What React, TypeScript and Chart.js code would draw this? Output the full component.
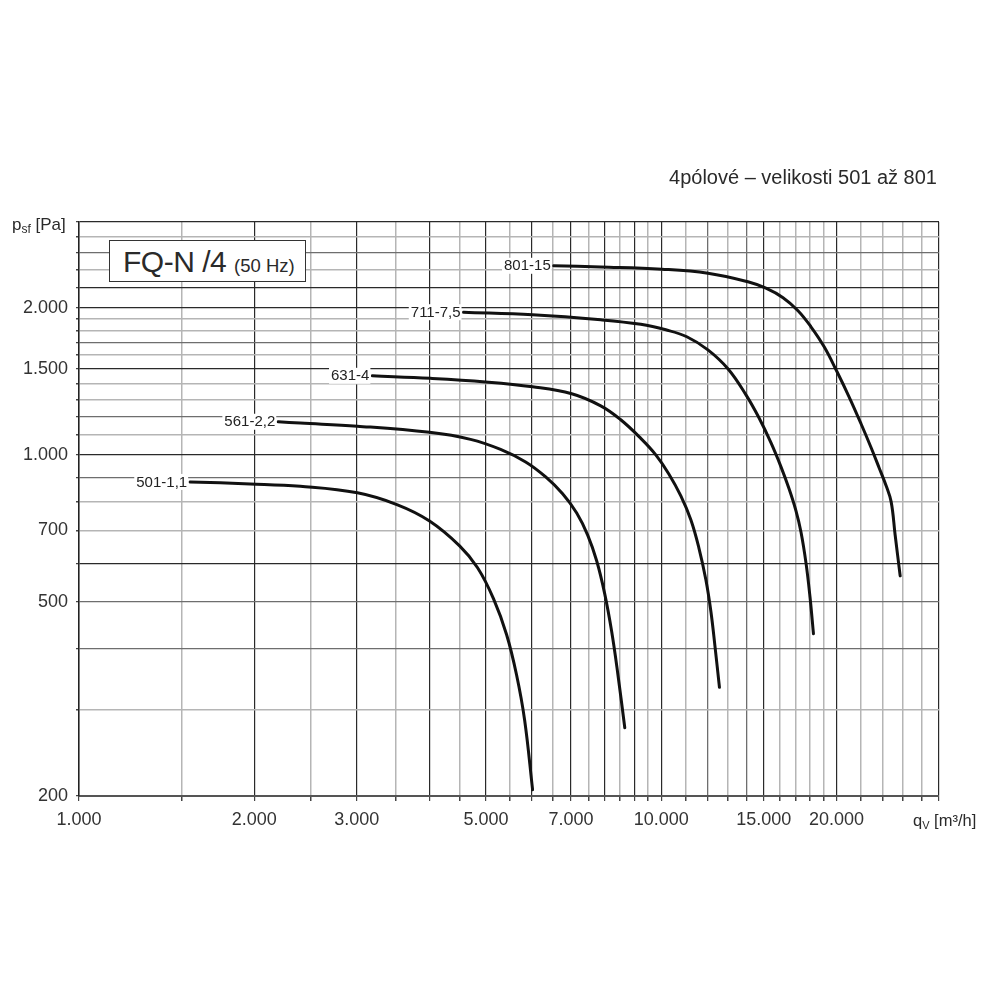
import React, { useEffect, useRef } from 'react';
import { Chart, registerables } from 'chart.js';

Chart.register(...registerables);

// ---- data ----
const SERIES_LABELS = ['501-1,1', '561-2,2', '631-4', '711-7,5', '801-15'];

const Q_501 = [1552, 1968, 2399, 3007, 3524, 4000, 4505, 4837, 5153, 5426, 5644, 5827, 6013];
const P_501 = [880, 872, 862, 836, 790, 732, 651, 587, 507, 428, 354, 286, 206];

const Q_561 = [2199, 2399, 3007, 4000, 4704, 5298, 5850, 6333, 6771, 7159, 7477, 7749, 7998, 8222, 8420, 8658];
const P_561 = [1169, 1162, 1145, 1112, 1076, 1026, 967, 901, 832, 760, 685, 606, 519, 434, 357, 276];

const Q_631 = [3191, 4015, 4992, 6013, 7019, 7873, 8521, 9224, 9788, 10306, 10807, 11243, 11606, 11934, 12173, 12367, 12590];
const P_631 = [1452, 1435, 1411, 1379, 1334, 1260, 1180, 1081, 1000, 914, 824, 736, 645, 554, 477, 406, 334];

const Q_711 = [4576, 6013, 7873, 9224, 10183, 11066, 12029, 13019, 13983, 14720, 15440, 16060, 16580, 17040, 17380, 17730, 18010, 18260];
const P_711 = [1960, 1936, 1891, 1851, 1804, 1746, 1641, 1501, 1327, 1191, 1058, 945, 852, 768, 695, 600, 512, 430];

const Q_801 = [6537, 7873, 10023, 12029, 14093, 15130, 16190, 17177, 18080, 19050, 20045, 21020, 22040, 22940, 23680, 24340, 24830, 25220, 25730];
const P_801 = [2440, 2426, 2401, 2356, 2263, 2195, 2099, 1974, 1830, 1665, 1480, 1315, 1158, 1034, 940, 864, 801, 686, 565];

const X_TICKS = [1000, 1500, 2000, 2500, 3000, 3500, 4000, 4500, 5000, 5500, 6000, 6500, 7000, 7500, 8000, 8500, 9000, 9500, 10000, 11000, 12000, 13000, 14000, 15000, 16000, 17000, 18000, 19000, 20000, 22000, 24000, 26000, 28000, 30000];
const X_LABELED = [1000, 2000, 3000, 5000, 7000, 10000, 15000, 20000];
const X_BLACK = [1000, 2000, 3000, 4000, 5000, 6000, 7000, 8000, 9000, 10000, 15000, 20000, 30000];
const X_MID = [12000, 14000];

const Y_TICKS = [200, 300, 400, 500, 600, 700, 800, 900, 1000, 1100, 1200, 1300, 1400, 1500, 1600, 1700, 1800, 1900, 2000, 2200, 2400, 2600, 2800, 3000];
const Y_LABELED = [200, 500, 700, 1000, 1500, 2000];
const Y_BLACK = [600, 1000, 1500, 2000, 2200, 3000];
const Y_MID = [200, 400, 500, 900, 1200, 1700, 2600];

const FONT = "'Liberation Sans', Arial, Helvetica, sans-serif";

const fmt = (v: number) => String(Math.round(v)).replace(/\B(?=(\d{3})+(?!\d))/g, '.');

const gridColor = (v: number, black: number[], mid: number[]) =>
  black.includes(v) ? '#2a2a2a' : mid.includes(v) ? '#6e6e6e' : '#b5b5b5';
const gridWidth = (v: number, black: number[], mid: number[]) =>
  black.includes(v) ? 1.2 : mid.includes(v) ? 1.3 : 1.5;

const curveLabelPlugin = {
  id: 'curveLabels',
  afterDatasetsDraw(chart: any) {
    const ctx = chart.ctx;
    ctx.save();
    ctx.font = `15px ${FONT}`;
    ctx.textAlign = 'right';
    ctx.textBaseline = 'middle';
    chart.data.datasets.forEach((ds: any, i: number) => {
      const meta = chart.getDatasetMeta(i);
      const p = meta.data[0];
      if (!p) return;
      const text = ds.label as string;
      const w = ctx.measureText(text).width;
      const xr = p.x - 3;
      ctx.fillStyle = '#ffffff';
      ctx.fillRect(xr - w - 2, p.y - 8, w + 3, 16);
      ctx.fillStyle = '#222';
      ctx.fillText(text, xr, p.y + 0.5);
    });
    ctx.restore();
  },
};

function ChartCanvas() {
  const ref = useRef<HTMLCanvasElement | null>(null);
  useEffect(() => {
    if (!ref.current) return;
    const qs = [Q_501, Q_561, Q_631, Q_711, Q_801];
    const ps = [P_501, P_561, P_631, P_711, P_801];
    const datasets = SERIES_LABELS.map((label, i) => ({
      label,
      data: qs[i].map((q, j) => ({ x: q, y: ps[i][j] })),
      borderColor: '#111',
      borderWidth: 3,
      pointRadius: 0,
      fill: false,
      tension: 0.4,
      borderCapStyle: 'round' as const,
      borderJoinStyle: 'round' as const,
    }));
    const chart = new Chart(ref.current, {
      type: 'line',
      data: { datasets },
      plugins: [curveLabelPlugin],
      options: {
        animation: false,
        responsive: false,
        devicePixelRatio: 1,
        layout: { padding: { left: 0, right: 61, top: 222, bottom: 174 } },
        plugins: { legend: { display: false }, tooltip: { enabled: false } },
        scales: {
          x: {
            type: 'logarithmic',
            min: 1000,
            max: 30000,
            afterBuildTicks: (scale: any) => {
              scale.ticks = X_TICKS.map((v) => ({ value: v }));
            },
            afterFit: (scale: any) => {
              scale.height = 30;
            },
            border: { display: true, color: '#555', width: 2 },
            grid: {
              color: (c: any) => gridColor(c.tick?.value, X_BLACK, X_MID),
              lineWidth: (c: any) => gridWidth(c.tick?.value, X_BLACK, X_MID),
              tickColor: '#444',
              tickLength: 5,
              drawTicks: true,
            },
            ticks: {
              autoSkip: false,
              maxRotation: 0,
              minRotation: 0,
              padding: 8,
              color: '#333',
              font: { family: FONT, size: 18 },
              callback: (v: any) => (X_LABELED.includes(Number(v)) ? fmt(Number(v)) : ''),
            },
          },
          y: {
            type: 'logarithmic',
            min: 200,
            max: 3000,
            afterBuildTicks: (scale: any) => {
              scale.ticks = Y_TICKS.map((v) => ({ value: v }));
            },
            afterFit: (scale: any) => {
              scale.width = 79;
            },
            border: { display: true, color: '#222', width: 1.5 },
            grid: {
              color: (c: any) => gridColor(c.tick?.value, Y_BLACK, Y_MID),
              lineWidth: (c: any) => gridWidth(c.tick?.value, Y_BLACK, Y_MID),
              tickColor: '#444',
              tickLength: 3,
              drawTicks: true,
            },
            ticks: {
              autoSkip: false,
              padding: 8,
              color: '#333',
              font: { family: FONT, size: 18 },
              callback: (v: any) => (Y_LABELED.includes(Number(v)) ? fmt(Number(v)) : ''),
            },
          },
        },
      },
    } as any);
    return () => chart.destroy();
  }, []);
  return (
    <canvas
      ref={ref}
      width={1000}
      height={1000}
      style={{ position: 'absolute', left: 0, top: 0, width: 1000, height: 1000 }}
    />
  );
}

const txt = (extra: React.CSSProperties): React.CSSProperties => ({
  position: 'absolute',
  fontFamily: FONT,
  lineHeight: 1,
  whiteSpace: 'nowrap',
  color: '#2a2a2a',
  ...extra,
});

export default function App() {
  return (
    <div
      style={{
        position: 'fixed',
        left: 0,
        top: 0,
        width: 1000,
        height: 1000,
        background: '#fff',
        overflow: 'hidden',
      }}
    >
      <ChartCanvas />
      {/* subtitle */}
      <div style={txt({ right: 63, top: 167, fontSize: 20 })}>4pólové – velikosti 501 až 801</div>
      {/* y axis title */}
      <div style={txt({ left: 12, top: 215.5, fontSize: 17 })}>
        p<span style={{ fontSize: 12, position: 'relative', top: 3 }}>sf</span> [Pa]
      </div>
      {/* x axis title */}
      <div style={txt({ left: 913, top: 812, fontSize: 16.5 })}>
        q<span style={{ fontSize: 11, position: 'relative', top: 3 }}>V</span> [m³/h]
      </div>
      {/* model box */}
      <div
        style={{
          position: 'absolute',
          left: 109,
          top: 240,
          width: 195,
          height: 40,
          border: '1.5px solid #333',
          background: '#fff',
        }}
      />
      <div style={txt({ left: 123, top: 247.3, fontSize: 30, letterSpacing: -0.5 })}>FQ-N /4</div>
      <div style={txt({ left: 234, top: 257, fontSize: 18.5 })}>(50 Hz)</div>
    </div>
  );
}
